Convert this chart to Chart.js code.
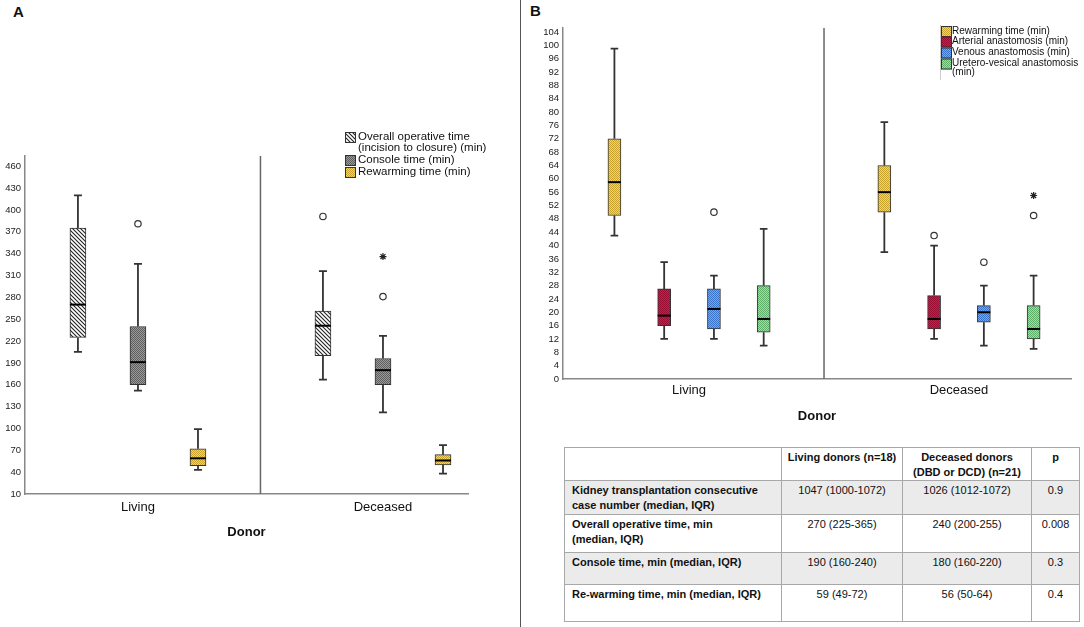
<!DOCTYPE html>
<html>
<head>
<meta charset="utf-8">
<script src="https://cdn.jsdelivr.net/npm/chart.js@4.4.0/dist/chart.umd.min.js"></script>
<style>
    body { margin: 0; width: 1084px; height: 627px; background: #fff; position: relative; overflow: hidden; font-family: "Liberation Sans", Arial, sans-serif; color: #111; }
    #chartA { position: absolute; left: 0; top: 0; }
    #chartB { position: absolute; left: 524px; top: 0; }
    .divider { position: absolute; left: 520px; top: 0; width: 1px; height: 627px; background: #555; }
    .panel { position: absolute; font-weight: bold; font-size: 15px; }
    #stats { position: absolute; left: 564px; top: 447px; width: 515px; border-collapse: collapse; table-layout: fixed; font-size: 11px; }
    #stats td, #stats th { border: 1px solid #a8a8a8; vertical-align: top; padding: 2px 7px 0 7px; line-height: 15px; }
    #stats th { font-weight: bold; text-align: center; white-space: nowrap; padding: 2px 2px 0 2px; }
    #stats td.lab { font-weight: bold; text-align: left; }
    #stats td { text-align: center; }
    #stats tr.shade td { background: #ebebeb; }
</style>
</head>
<body>
<div class="panel" style="left:13px;top:3px">A</div>
<div class="panel" style="left:530px;top:2px">B</div>
<div class="divider"></div>
<canvas id="chartA" width="520" height="627"></canvas>
<canvas id="chartB" width="560" height="440"></canvas>

<table id="stats">
    <colgroup><col style="width:217px"><col style="width:121px"><col style="width:129px"><col style="width:48px"></colgroup>
    <tr style="height:31px"><th></th><th>Living donors (n=18)</th><th>Deceased donors<br>(DBD or DCD) (n=21)</th><th>p</th></tr>
    <tr class="shade" style="height:34px"><td class="lab">Kidney transplantation consecutive<br>case number (median, IQR)</td><td>1047 (1000-1072)</td><td>1026 (1012-1072)</td><td>0.9</td></tr>
    <tr style="height:38px"><td class="lab">Overall operative time, min<br>(median, IQR)</td><td>270 (225-365)</td><td>240 (200-255)</td><td>0.008</td></tr>
    <tr class="shade" style="height:32px"><td class="lab">Console time, min (median, IQR)</td><td>190 (160-240)</td><td>180 (160-220)</td><td>0.3</td></tr>
    <tr style="height:37px"><td class="lab">Re-warming time, min (median, IQR)</td><td>59 (49-72)</td><td>56 (50-64)</td><td>0.4</td></tr>
</table>

<script>
const donorGroups = ["Living", "Deceased"];

// box values: [min whisker, Q1, median, Q3, max whisker]
const overallLiving = [205, 225, 270, 375, 420];
const overallDeceased = [167, 200, 241, 261, 316];
const consoleLiving = [152, 160, 191, 240, 326];
const consoleDeceased = [122, 160, 180, 196, 227];
const rewarmLiving = [43, 49, 59, 72, 99];
const rewarmDeceased = [38, 50, 56, 64, 77];
const arterialLiving = [12, 16, 19, 27, 35];
const arterialDeceased = [12, 15, 18, 25, 40];
const venousLiving = [12, 15, 21, 27, 31];
const venousDeceased = [10, 17, 20, 22, 28];
const ureteroLiving = [10, 14, 18, 28, 45];
const ureteroDeceased = [9, 12, 15, 22, 31];

// outliers (circles) and extremes (stars), per donor group
const overallOut = [[], [391]];
const consoleOut = [[381], [281]];
const consoleExt = [[], [336]];
const venousOut = [[50], [35]];
const arterialOut = [[], [43]];
const ureteroOut = [[], [49]];
const ureteroExt = [[], [55]];
const noPoints = [[], []];

const ticksA = [10, 40, 70, 100, 130, 160, 190, 220, 250, 280, 310, 340, 370, 400, 430, 460];
const ticksB = [0, 4, 8, 12, 16, 20, 24, 28, 32, 36, 40, 44, 48, 52, 56, 60, 64, 68, 72, 76, 80, 84, 88, 92, 96, 100, 104];

function dotPattern(ctx, base, dot) {
    const c = document.createElement("canvas");
    c.width = 2; c.height = 2;
    const g = c.getContext("2d");
    g.fillStyle = base; g.fillRect(0, 0, 2, 2);
    g.fillStyle = dot; g.fillRect(0, 0, 1, 1); g.fillRect(1, 1, 1, 1);
    return ctx.createPattern(c, "repeat");
}

function hatchPattern(ctx) {
    const c = document.createElement("canvas");
    c.width = 4; c.height = 4;
    const g = c.getContext("2d");
    g.fillStyle = "#fff"; g.fillRect(0, 0, 4, 4);
    g.strokeStyle = "#222"; g.lineWidth = 1.1;
    g.beginPath();
    g.moveTo(-1, -1); g.lineTo(5, 5);
    g.moveTo(-1, 3); g.lineTo(1, 5);
    g.moveTo(3, -1); g.lineTo(5, 1);
    g.stroke();
    return ctx.createPattern(c, "repeat");
}

// whiskers, caps, medians and the Living/Deceased divider
function whiskerPlugin(capHalf) {
    return {
        id: "whiskers",
        beforeDatasetsDraw(chart) {
            const ctx = chart.ctx, a = chart.chartArea;
            const x = chart.scales.x.getPixelForValue(0.5);
            ctx.save();
            ctx.strokeStyle = "#666"; ctx.lineWidth = 1.5;
            ctx.beginPath(); ctx.moveTo(x, a.top); ctx.lineTo(x, a.bottom); ctx.stroke();
            ctx.restore();
        },
        afterDatasetsDraw(chart) {
            const ctx = chart.ctx, ys = chart.scales.y;
            ctx.save();
            chart.data.datasets.forEach((ds, i) => {
                if (!ds.boxes) return;
                chart.getDatasetMeta(i).data.forEach((bar, gi) => {
                    const b = ds.boxes[gi], cx = bar.x, half = bar.width / 2;
                    ctx.strokeStyle = "#333"; ctx.lineWidth = 1.8;
                    ctx.beginPath();
                    ctx.moveTo(cx, ys.getPixelForValue(b[3])); ctx.lineTo(cx, ys.getPixelForValue(b[4]));
                    ctx.moveTo(cx, ys.getPixelForValue(b[1])); ctx.lineTo(cx, ys.getPixelForValue(b[0]));
                    ctx.moveTo(cx - capHalf, ys.getPixelForValue(b[4])); ctx.lineTo(cx + capHalf, ys.getPixelForValue(b[4]));
                    ctx.moveTo(cx - capHalf, ys.getPixelForValue(b[0])); ctx.lineTo(cx + capHalf, ys.getPixelForValue(b[0]));
                    ctx.stroke();
                    ctx.strokeStyle = "#000"; ctx.lineWidth = 2;
                    ctx.beginPath();
                    ctx.moveTo(cx - half, ys.getPixelForValue(b[2])); ctx.lineTo(cx + half, ys.getPixelForValue(b[2]));
                    ctx.stroke();
                });
            });
            ctx.restore();
        }
    };
}

function legendPlugin(cfg) {
    return {
        id: "boxLegend",
        afterDraw(chart) {
            const ctx = chart.ctx;
            ctx.save();
            ctx.font = cfg.fontSize + "px 'Liberation Sans', Arial, sans-serif";
            ctx.textBaseline = "middle";
            cfg.items.forEach(item => {
                ctx.fillStyle = item.fill;
                ctx.fillRect(cfg.x, item.y - 5, 11, 11);
                ctx.strokeStyle = "#333"; ctx.lineWidth = 1;
                ctx.strokeRect(cfg.x + 0.5, item.y - 4.5, 10, 10);
                ctx.fillStyle = "#111";
                item.lines.forEach((t, k) => ctx.fillText(t, cfg.x + cfg.textGap, item.y + k * cfg.lineGap));
            });
            if (cfg.frame) {
                ctx.strokeStyle = "#ccc"; ctx.lineWidth = 1;
                ctx.beginPath(); ctx.moveTo(cfg.x - 0.5, cfg.frame[0]); ctx.lineTo(cfg.x - 0.5, cfg.frame[1]); ctx.stroke();
            }
            ctx.restore();
        }
    };
}

function boxChart(canvasId, opt) {
    const canvas = document.getElementById(canvasId);
    const datasets = [];
    opt.series.forEach((s, i) => {
        datasets.push({
            type: "bar",
            label: s.lines.join(" "),
            data: donorGroups.map((g, gi) => ({ x: gi + opt.offsets[i], y: [s.boxes[gi][1], s.boxes[gi][3]] })),
            boxes: s.boxes,
            backgroundColor: s.fill,
            borderColor: "#333",
            borderWidth: 1,
            borderSkipped: false,
            grouped: false,
            barThickness: opt.barWidth,
            maxBarThickness: opt.barWidth
        });
    });
    opt.series.forEach((s, i) => {
        const circles = [], stars = [];
        donorGroups.forEach((g, gi) => {
            s.out[gi].forEach(v => circles.push({ x: gi + opt.offsets[i], y: v }));
            s.ext[gi].forEach(v => stars.push({ x: gi + opt.offsets[i], y: v }));
        });
        if (circles.length) datasets.push({ type: "scatter", data: circles, pointStyle: "circle", pointRadius: 3.2, backgroundColor: "#fff", borderColor: "#333", borderWidth: 1.2 });
        if (stars.length) datasets.push({ type: "scatter", data: stars, pointStyle: "star", pointRadius: 3.5, backgroundColor: "#222", borderColor: "#222", borderWidth: 1.2 });
    });

    return new Chart(canvas, {
        type: "bar",
        data: { datasets: datasets },
        plugins: [whiskerPlugin(opt.capHalf), legendPlugin(opt.legend)],
        options: {
            responsive: false,
            animation: false,
            events: [],
            layout: { padding: opt.padding },
            plugins: { legend: { display: false }, tooltip: { enabled: false } },
            scales: {
                x: {
                    type: "linear",
                    offset: false,
                    min: opt.xRange[0],
                    max: opt.xRange[1],
                    afterBuildTicks: axis => { axis.ticks = donorGroups.map((g, i) => ({ value: i })); },
                    afterFit: axis => { axis.height = opt.xAxisHeight; },
                    grid: { display: false, drawTicks: false, offset: false },
                    border: { display: true, color: "#888", width: 1.5 },
                    ticks: {
                        callback: v => donorGroups[v],
                        font: { size: 13, family: "'Liberation Sans', Arial, sans-serif" },
                        color: "#111",
                        padding: opt.xLabelPad,
                        maxRotation: 0,
                        autoSkip: false
                    },
                    title: {
                        display: true,
                        text: "Donor",
                        font: { size: 13, weight: "bold", family: "'Liberation Sans', Arial, sans-serif" },
                        color: "#111",
                        padding: 0
                    }
                },
                y: {
                    type: "linear",
                    min: opt.yRange[0],
                    max: opt.yRange[1],
                    afterBuildTicks: axis => { axis.ticks = opt.yTicks.map(v => ({ value: v })); },
                    afterFit: axis => { axis.width = opt.yAxisWidth; },
                    grid: { display: false, drawTicks: false },
                    border: { display: true, color: "#888", width: 1.5 },
                    ticks: {
                        font: { size: 9.5, family: "'Liberation Sans', Arial, sans-serif" },
                        color: "#222",
                        padding: 4,
                        autoSkip: false
                    }
                }
            }
        }
    });
}

const ctxA = document.getElementById("chartA").getContext("2d");
const ctxB = document.getElementById("chartB").getContext("2d");

const hatchA = hatchPattern(ctxA);
const greyA = dotPattern(ctxA, "#9a9a9a", "#5e5e5e");
const yellowA = dotPattern(ctxA, "#f6d84e", "#c9a42c");
const yellowB = dotPattern(ctxB, "#f6d84e", "#c9a42c");
const redB = dotPattern(ctxB, "#d8174c", "#9a0c32");
const blueB = dotPattern(ctxB, "#70aaf2", "#3a74c8");
const greenB = dotPattern(ctxB, "#a0dea7", "#5eae6a");

boxChart("chartA", {
    series: [
        { lines: ["Overall operative time", "(incision to closure) (min)"], boxes: [overallLiving, overallDeceased], out: overallOut, ext: noPoints, fill: hatchA },
        { lines: ["Console time (min)"], boxes: [consoleLiving, consoleDeceased], out: consoleOut, ext: consoleExt, fill: greyA },
        { lines: ["Rewarming time (min)"], boxes: [rewarmLiving, rewarmDeceased], out: noPoints, ext: noPoints, fill: yellowA }
    ],
    offsets: [-0.245, 0, 0.245],
    barWidth: 16,
    capHalf: 4,
    xRange: [-0.461, 1.347],
    yRange: [10, 474],
    yTicks: ticksA,
    padding: { left: 0, top: 156, right: 52, bottom: 87 },
    xAxisHeight: 46,
    yAxisWidth: 25,
    xLabelPad: 6,
    legend: {
        x: 345,
        fontSize: 11.5,
        textGap: 13,
        lineGap: 10.5,
        items: [
            { y: 137, lines: ["Overall operative time", "(incision to closure) (min)"], fill: hatchA },
            { y: 160, lines: ["Console time (min)"], fill: greyA },
            { y: 172, lines: ["Rewarming time (min)"], fill: yellowA }
        ]
    }
});

boxChart("chartB", {
    series: [
        { lines: ["Rewarming time (min)"], boxes: [rewarmLiving, rewarmDeceased], out: noPoints, ext: noPoints, fill: yellowB },
        { lines: ["Arterial anastomosis (min)"], boxes: [arterialLiving, arterialDeceased], out: arterialOut, ext: noPoints, fill: redB },
        { lines: ["Venous anastomosis (min)"], boxes: [venousLiving, venousDeceased], out: venousOut, ext: noPoints, fill: blueB },
        { lines: ["Uretero-vesical anastomosis", "(min)"], boxes: [ureteroLiving, ureteroDeceased], out: ureteroOut, ext: ureteroExt, fill: greenB }
    ],
    offsets: [-0.2765, -0.0922, 0.0922, 0.2765],
    barWidth: 13,
    capHalf: 3.8,
    xRange: [-0.467, 1.415],
    yRange: [0, 105.2],
    yTicks: ticksB,
    padding: { left: 0, top: 28, right: 13, bottom: 16 },
    xAxisHeight: 45,
    yAxisWidth: 39,
    xLabelPad: 4,
    legend: {
        x: 417,
        fontSize: 10,
        textGap: 11,
        lineGap: 9,
        frame: [25, 80],
        items: [
            { y: 31, lines: ["Rewarming time (min)"], fill: yellowB },
            { y: 41.5, lines: ["Arterial anastomosis (min)"], fill: redB },
            { y: 52.5, lines: ["Venous anastomosis (min)"], fill: blueB },
            { y: 63.5, lines: ["Uretero-vesical anastomosis", "(min)"], fill: greenB }
        ]
    }
});
</script>
</body>
</html>
